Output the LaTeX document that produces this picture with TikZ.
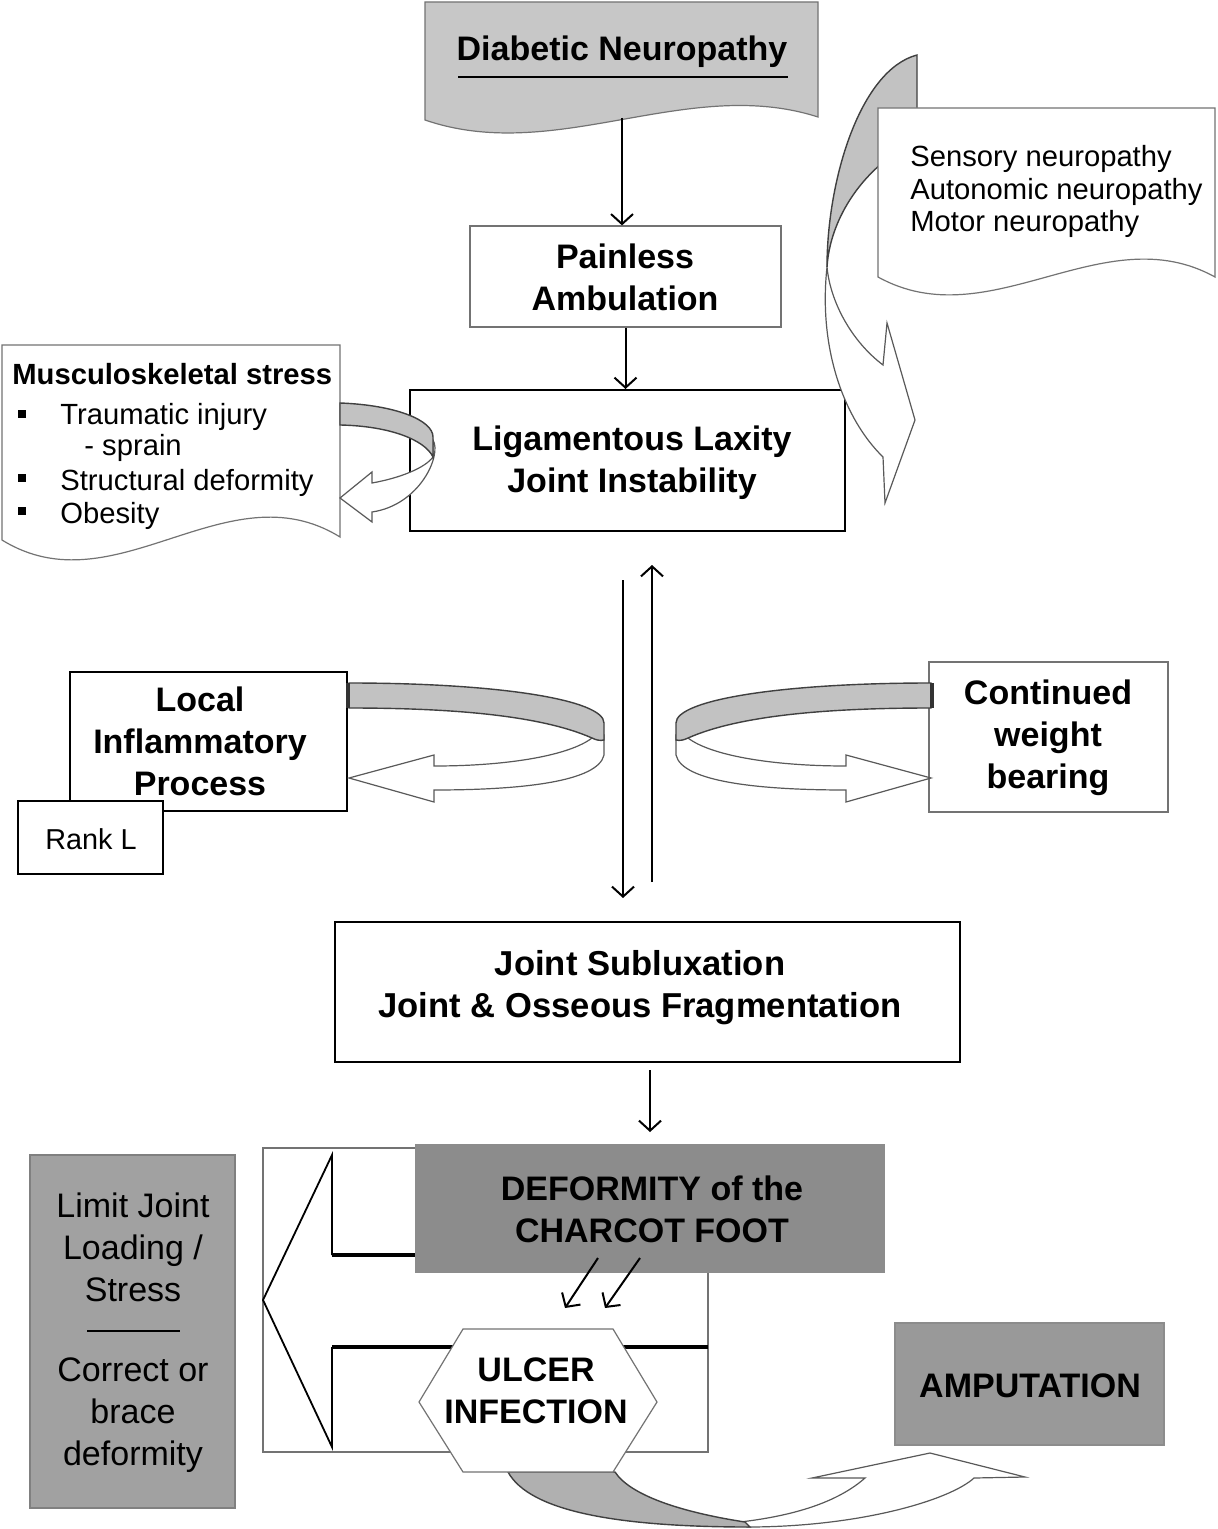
\documentclass[tikz,border=0pt]{standalone}
\usepackage{fontspec}
\setmainfont{Liberation Sans}
\usetikzlibrary{arrows.meta,fit}
\definecolor{dngrey}{gray}{0.78}
\definecolor{bandgrey}{gray}{0.76}
\definecolor{defgrey}{gray}{0.55}
\definecolor{ampgrey}{gray}{0.60}
\definecolor{limgrey}{gray}{0.63}
\newcommand{\mySideArrow}{%
  \draw[whitearrow] (592,738) -- (604,735) -- (604,755) .. controls (598,782) and (520,790) .. (434,790)
     -- (434,802) -- (349,778) -- (434,755) -- (434,766) .. controls (510,766) and (570,755) .. (592,738) -- cycle;
  \draw[band] (349,683) .. controls (500,683) and (604,700) .. (604,723) -- (604,740)
     .. controls (600,741) and (596,740) .. (592,738) .. controls (540,715) and (450,708) .. (349,708) -- cycle;
  \fill[black!80] (346,683) rectangle (350,708);
}
\begin{document}
\begin{tikzpicture}[x=0.5pt,y=-0.5pt,
  arr/.style={-{Straight Barb[length=5pt,width=11pt,line width=1pt]}, line width=1pt},
  bigtxt/.style={font=\bfseries\fontsize{17}{21}\selectfont, align=center},
  regtxt/.style={font=\fontsize{17}{21}\selectfont, align=center},
  smalltxt/.style={font=\fontsize{14.6}{16.3}\selectfont, inner sep=0pt},
  frame/.style={draw=black, line width=1pt, fill=white, inner sep=0pt},
  thinframe/.style={draw=black!55, line width=0.6pt, fill=white, inner sep=0pt},
  band/.style={fill=bandgrey, draw=black!75, line width=0.7pt},
  whitearrow/.style={fill=white, draw=black!65, line width=0.6pt},
  docshape/.style={draw=black!55, line width=0.6pt},
]
\useasboundingbox[fill=white] (0,0) rectangle (1217,1529);

% Diabetic Neuropathy
\draw[docshape, fill=dngrey] (425,2) -- (818,2) -- (818,117)
   .. controls (687,75) and (556,165) .. (425,120) -- cycle;
\node[bigtxt] (dn) at (622,52) {Diabetic Neuropathy};
\draw[line width=1.1pt] (458,77) -- (788,77);
\coordinate (dnb) at (622,118);

% Painless Ambulation
\node[thinframe, fit={(470,226) (781,327)}] (pa) {};
\node[bigtxt] (patx) at (625,277) {Painless\\Ambulation};
\draw[arr] (dnb) -- (dnb |- pa.north);

% Ligamentous Laxity
\node[frame, fit={(410,390) (845,531)}] (lig) {};
\node[bigtxt] (ligtx) at (632,463) {Ligamentous Laxity\\Joint Instability};
\draw[arr] (pa.south) -- (pa.south |- lig.north);

% right top curved arrow
\draw[whitearrow] (827,267) .. controls (818,350) and (845,420) .. (883,457)
   -- (885,503) -- (915,420) -- (887,323) -- (883,365)
   .. controls (850,340) and (830,300) .. (827,267) -- cycle;
\draw[band] (917,55) .. controls (860,70) and (827,180) .. (827,267)
   .. controls (830,220) and (860,175) .. (900,150) -- (917,140) -- cycle;

% Sensory box
\draw[docshape, fill=white] (878,108) -- (1215,108) -- (1215,277)
   .. controls (1103,215) and (990,339) .. (878,277) -- cycle;
\node[smalltxt, anchor=base west] (sn1) at (910,167) {Sensory neuropathy};
\node[smalltxt, anchor=base west] (sn2) at (910,200) {Autonomic neuropathy};
\node[smalltxt, anchor=base west] (sn3) at (910,232) {Motor neuropathy};

% Musculoskeletal stress
\draw[docshape, fill=white] (2,345) -- (340,345) -- (340,537)
   .. controls (227,467) and (115,610) .. (2,540) -- cycle;
\node[anchor=base west, inner sep=0pt, font=\bfseries\fontsize{14.6}{16}\selectfont] (ms) at (12,385) {Musculoskeletal stress};
\node[smalltxt, anchor=base west] (ms1) at (60,424) {Traumatic injury};
\node[smalltxt, anchor=base west] (ms2) at (84,456) {- sprain};
\node[smalltxt, anchor=base west] (ms3) at (60,490) {Structural deformity};
\node[smalltxt, anchor=base west] (ms4) at (60,523) {Obesity};
\fill (18,410) rectangle (26,418);
\fill (18,474) rectangle (26,482);
\fill (18,507) rectangle (26,515);

% curved arrow lig -> ms
\draw[whitearrow] (433,440) .. controls (442,455) and (420,505) .. (372,512) -- (372,522) -- (340,498)
   -- (372,472) -- (372,483) .. controls (400,478) and (425,468) .. (433,457) -- cycle;
\draw[band] (340,403) .. controls (395,405) and (433,420) .. (433,437) -- (433,457)
   .. controls (425,440) and (390,426) .. (340,425) -- cycle;

% Local inflammatory process
\node[frame, fit={(70,672) (347,811)}] (loc) {};
\node[bigtxt] (loctx) at (200,741) {Local\\Inflammatory\\Process};
\node[frame, fit={(18,801) (163,874)}] (rank) {};
\node[font=\fontsize{14.4}{17}\selectfont] (ranktx) at (91,839) {Rank L};

% Continued weight bearing
\node[thinframe, fit={(929,662) (1168,812)}] (cw) {};
\node[bigtxt] (cwtx) at (1048,738) {Continued\\weight\\bearing};

% side curved arrows
\mySideArrow
\begin{scope}[shift={(1280,0)}, xscale=-1]
\mySideArrow
\end{scope}

% middle double arrows
\coordinate (dtop) at (623,580);
\coordinate (dbot) at (623,898);
\coordinate (utop) at (652,565);
\coordinate (ubot) at (652,882);
\draw[arr] (dtop) -- (dbot);
\draw[arr] (ubot) -- (utop);

% Joint subluxation
\node[frame, fit={(335,922) (960,1062)}] (js) {};
\node[bigtxt, font=\bfseries\fontsize{17.3}{21}\selectfont] (jstx) at (640,988) {Joint Subluxation\\Joint \& Osseous Fragmentation};
\coordinate (jsa) at (650,1070);
\coordinate (jsb) at (650,1132);
\draw[arr] (jsa) -- (jsb);

% Limit joint loading box
\node[draw=black!50, line width=0.6pt, fill=limgrey, inner sep=0pt, fit={(30,1155) (235,1508)}] (lim) {};
\node[regtxt] (lim1) at (133,1247) {Limit Joint\\Loading /\\Stress};
\draw[line width=1pt] (87,1331) -- (180,1331);
\node[regtxt] (lim2) at (133,1415) {Correct or\\brace\\deformity};

% big frame with block arrow
\node[thinframe, fit={(263,1148) (708,1452)}] (bigframe) {};
\draw[line width=0.9pt] (332,1255) -- (332,1155) -- (263,1300) -- (332,1447) -- (332,1347);
\draw[line width=1.6pt] (332,1255) -- (420,1255);
\draw[line width=1.6pt] (332,1347) -- (708,1347);

% Deformity
\node[draw=black!45, line width=0.6pt, fill=defgrey, inner sep=0pt, fit={(416,1145) (884,1272)}] (def) {};
\node[bigtxt] (deftx) at (652,1209) {DEFORMITY of the\\CHARCOT FOOT};
\coordinate (da1) at (598,1258);
\coordinate (db1) at (565,1308);
\coordinate (da2) at (640,1258);
\coordinate (db2) at (605,1308);
\draw[arr] (da1) -- (db1);
\draw[arr] (da2) -- (db2);

% bottom curved arrow to amputation
\draw[whitearrow] (740,1522) .. controls (800,1515) and (840,1500) .. (865,1478) -- (812,1478) -- (930,1453)
   -- (1025,1477) -- (974,1478) .. controls (950,1500) and (860,1527) .. (747,1527) -- cycle;
\draw[band, fill=gray!62] (508,1472) .. controls (530,1512) and (620,1527) .. (750,1527) -- (745,1522)
   .. controls (680,1512) and (630,1495) .. (615,1472) -- cycle;

% Ulcer hexagon
\draw[draw=black!55, line width=0.6pt, fill=white] (463,1329) -- (613,1329) -- (657,1402) -- (613,1472)
   -- (463,1472) -- (419,1402) -- cycle;
\node[bigtxt] (ulcer) at (536,1391) {ULCER\\INFECTION};

% Amputation
\node[draw=black!45, line width=0.6pt, fill=ampgrey, inner sep=0pt, fit={(895,1323) (1164,1445)}] (amp) {};
\node[bigtxt] (amptx) at (1030,1386) {AMPUTATION};
\end{tikzpicture}
\end{document}
